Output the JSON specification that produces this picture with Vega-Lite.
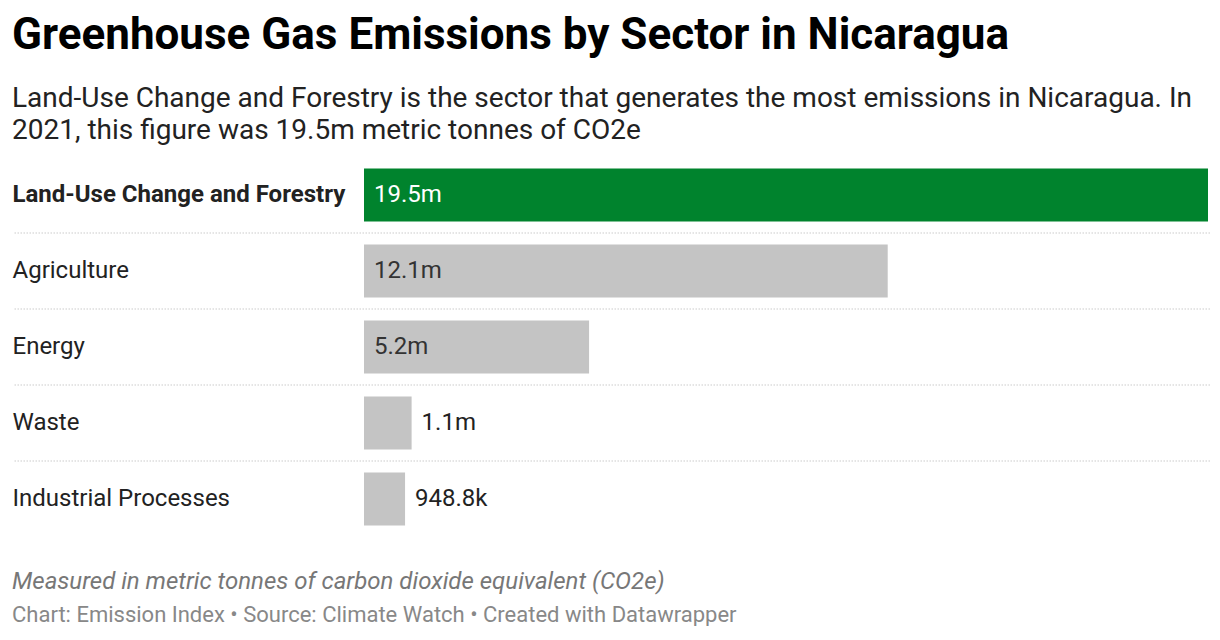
{
  "$schema": "https://vega.github.io/schema/vega-lite/v6.json",
  "background": "white",
  "padding": {"left": 12, "right": 12, "top": 13, "bottom": 0},
  "title": {
    "text": "Greenhouse Gas Emissions by Sector in Nicaragua",
    "subtitle": [
      "Land-Use Change and Forestry is the sector that generates the most emissions in Nicaragua. In",
      "2021, this figure was 19.5m metric tonnes of CO2e"
    ],
    "anchor": "start",
    "frame": "bounds",
    "font": "Roboto",
    "fontSize": 44,
    "fontWeight": "bold",
    "color": "#000000",
    "subtitleFont": "Roboto",
    "subtitleFontSize": 28,
    "subtitleColor": "#222222",
    "subtitleLineHeight": 32,
    "subtitlePadding": 27.5,
    "offset": 12
  },
  "vconcat": [
    {
      "width": 1196,
      "height": 380,
      "title": {
        "text": "Measured in metric tonnes of carbon dioxide equivalent (CO2e)",
        "subtitle": "Chart: Emission Index • Source: Climate Watch • Created with Datawrapper",
        "orient": "bottom",
        "anchor": "start",
        "frame": "bounds",
        "font": "Roboto",
        "fontSize": 24,
        "fontStyle": "italic",
        "fontWeight": "normal",
        "color": "#777777",
        "subtitleFont": "Roboto",
        "subtitleFontSize": 22,
        "subtitleColor": "#888888",
        "subtitlePadding": 10.5,
        "offset": 33
      },
      "data": {
        "values": [
          {"sector": "Land-Use Change and Forestry", "value": 19.5, "label": "19.5m"},
          {"sector": "Agriculture", "value": 12.1, "label": "12.1m"},
          {"sector": "Energy", "value": 5.2, "label": "5.2m"},
          {"sector": "Waste", "value": 1.1, "label": "1.1m"},
          {"sector": "Industrial Processes", "value": 0.9488, "label": "948.8k"}
        ]
      },
      "encoding": {
        "y": {
          "field": "sector",
          "type": "nominal",
          "sort": null,
          "scale": {"paddingInner": 0.3, "paddingOuter": 0.15},
          "axis": {
            "title": null,
            "domain": false,
            "ticks": false,
            "tickSize": 0,
            "labelPadding": 2,
            "labelAlign": "left",
            "labelFont": "Roboto",
            "labelFontSize": 24,
            "labelColor": "#222222",
            "labelLimit": 400,
            "labelFontWeight": {
              "condition": {"test": "datum.value === 'Land-Use Change and Forestry'", "value": "bold"},
              "value": "normal"
            }
          }
        }
      },
      "layer": [
        {
          "transform": [{"filter": "datum.sector !== 'Industrial Processes'"}],
          "mark": {"type": "rule", "stroke": "#cccccc", "strokeWidth": 1.2, "strokeDash": [1.5, 1.5], "yOffset": 11.4},
          "encoding": {
            "y": {"field": "sector", "type": "nominal", "sort": null, "bandPosition": 1}
          }
        },
        {
          "mark": {"type": "bar"},
          "encoding": {
            "x": {
              "field": "value",
              "type": "quantitative",
              "scale": {"domain": [0, 19.5], "range": [350, 1194], "nice": false},
              "axis": null
            },
            "color": {
              "condition": {"test": "datum.sector === 'Land-Use Change and Forestry'", "value": "#00832d"},
              "value": "#c4c4c4"
            }
          }
        },
        {
          "transform": [{"filter": "datum.value > 3"}],
          "mark": {"type": "text", "align": "left", "baseline": "middle", "dx": 10, "font": "Roboto", "fontSize": 24},
          "encoding": {
            "x": {"datum": 0, "type": "quantitative"},
            "text": {"field": "label"},
            "color": {
              "condition": {"test": "datum.sector === 'Land-Use Change and Forestry'", "value": "#ffffff"},
              "value": "#333333"
            }
          }
        },
        {
          "transform": [{"filter": "datum.value <= 3"}],
          "mark": {"type": "text", "align": "left", "baseline": "middle", "dx": 10, "font": "Roboto", "fontSize": 24, "color": "#222222"},
          "encoding": {
            "x": {"field": "value", "type": "quantitative"},
            "text": {"field": "label"}
          }
        }
      ]
    }
  ],
  "config": {
    "view": {"stroke": null},
    "concat": {"spacing": 0}
  }
}
